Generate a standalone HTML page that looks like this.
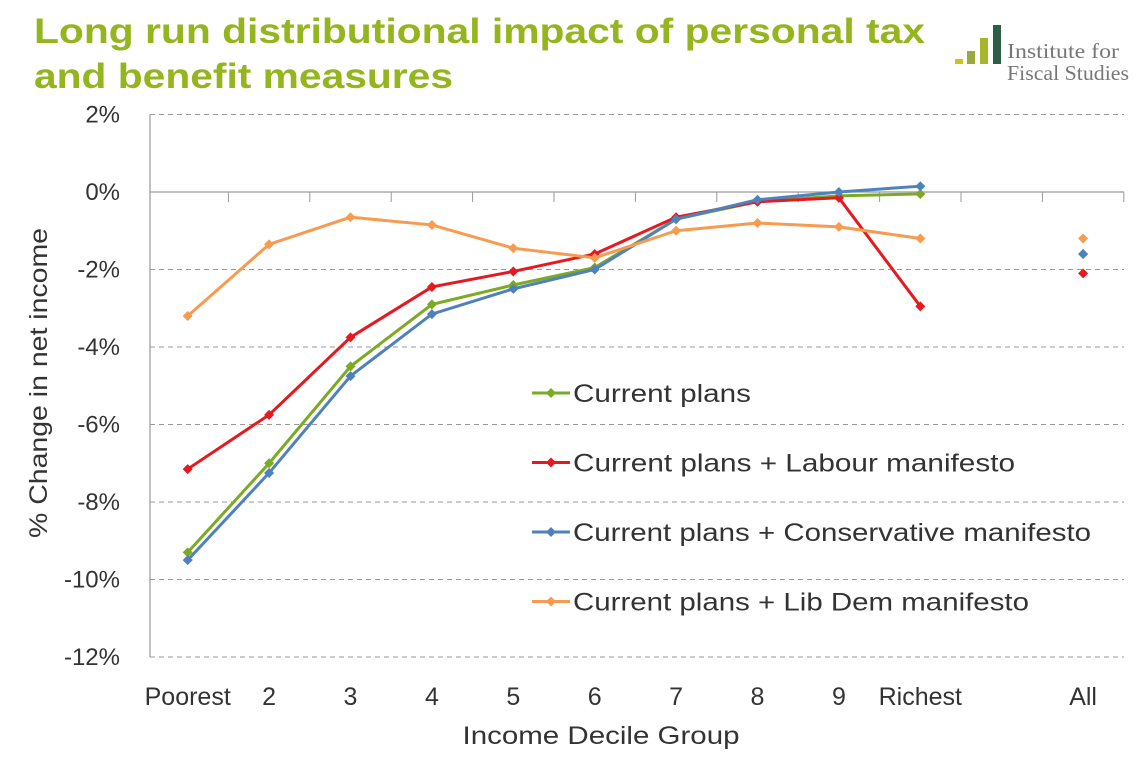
<!DOCTYPE html>
<html><head><meta charset="utf-8"><style>
body{margin:0;background:#fff;width:1141px;height:767px;overflow:hidden;font-family:"Liberation Sans","DejaVu Sans",sans-serif}
</style></head><body>
<svg width="1141" height="767" xmlns="http://www.w3.org/2000/svg">
<text x="34" y="43" font-size="35" font-weight="bold" fill="#94b51e" textLength="891" lengthAdjust="spacingAndGlyphs">Long run distributional impact of personal tax</text>
<text x="34" y="88" font-size="35" font-weight="bold" fill="#94b51e" textLength="419" lengthAdjust="spacingAndGlyphs">and benefit measures</text>
<g>
<rect x="955" y="59" width="8" height="5" fill="#c9c520"/>
<rect x="967" y="51" width="8" height="13" fill="#9aab3c"/>
<rect x="980" y="38" width="8" height="26" fill="#a7b72a"/>
<rect x="993" y="25" width="8" height="39" fill="#2e5e45"/>
<text x="1007" y="58" font-family="Liberation Serif,serif" font-size="21" fill="#777" textLength="112" lengthAdjust="spacingAndGlyphs">Institute for</text>
<text x="1007" y="80" font-family="Liberation Serif,serif" font-size="21" fill="#777" textLength="122" lengthAdjust="spacingAndGlyphs">Fiscal Studies</text>
</g>
<g id="grid"></g><g id="axes"></g><g id="series"></g>
<text transform="translate(47,383) rotate(-90)" text-anchor="middle" font-size="25" fill="#333" textLength="310" lengthAdjust="spacingAndGlyphs">% Change in net income</text>
<text x="601" y="744" text-anchor="middle" font-size="25" fill="#333" textLength="277" lengthAdjust="spacingAndGlyphs">Income Decile Group</text>
<g id="legend"></g>
</svg>
<script>
const categories=["Poorest","2","3","4","5","6","7","8","9","Richest","","All"];
const yTicks=[2,0,-2,-4,-6,-8,-10,-12];
const seriesNames=["Current plans","Current plans + Labour manifesto","Current plans + Conservative manifesto","Current plans + Lib Dem manifesto"];
const legendWidths=[178,442,518,456];
const currentPlans=[-9.3,-7.0,-4.5,-2.9,-2.4,-1.95,-0.7,-0.25,-0.1,-0.05,null,-1.6];
const labour=[-7.15,-5.75,-3.75,-2.45,-2.05,-1.6,-0.65,-0.25,-0.15,-2.95,null,-2.1];
const conservative=[-9.5,-7.25,-4.75,-3.15,-2.5,-2.0,-0.7,-0.2,0.0,0.15,null,-1.6];
const libdem=[-3.2,-1.35,-0.65,-0.85,-1.45,-1.7,-1.0,-0.8,-0.9,-1.2,null,-1.2];
const colors=["#7aab22","#e5191f","#4f81bd","#f79b50"];
const NS="http://www.w3.org/2000/svg";
const X0=147,STEP=81.4;
const xs=i=>X0+STEP*(i+0.5);
const ys=v=>192-v*38.75;
function mk(t,a,p){const e=document.createElementNS(NS,t);for(const k in a)e.setAttribute(k,a[k]);p.appendChild(e);return e;}
const grid=document.getElementById('grid'),axes=document.getElementById('axes'),ser=document.getElementById('series'),leg=document.getElementById('legend');
yTicks.forEach(t=>{
 if(t!==0){const l=mk('line',{x1:150,x2:1124,y1:ys(t),y2:ys(t),stroke:'#999','stroke-dasharray':'5,4','stroke-width':1},grid);
 
 }
 const tx=mk('text',{x:120,y:ys(t)+8,'text-anchor':'end','font-size':24,fill:'#333'},axes);tx.textContent=t+'%';
 
 
});
mk('line',{x1:150,x2:150,y1:ys(2),y2:ys(-12),stroke:'#999','stroke-width':1.2},axes);
const z=mk('line',{x1:150,x2:1124,y1:ys(0),y2:ys(0),stroke:'#999','stroke-width':1.2},axes);


for(let i=1;i<=categories.length;i++)mk('line',{x1:X0+STEP*i,x2:X0+STEP*i,y1:ys(0),y2:ys(0)+10,stroke:'#999'},axes);
categories.forEach((c,i)=>{const t=mk('text',{x:xs(i),y:705,'text-anchor':'middle','font-size':25,fill:'#333'},axes);t.textContent=c;
 
 });
function diamond(x,y,c,p){const d=mk('path',{d:`M${x},${y-5}L${x+5},${y}L${x},${y+5}L${x-5},${y}Z`,fill:c},p);return d;}
[currentPlans,labour,conservative,libdem].forEach((arr,s)=>{
 const g=mk('g',{},ser);
 
 
 const pts=arr.slice(0,10).map((v,i)=>xs(i)+','+ys(v)).join(' ');
 mk('polyline',{points:pts,fill:'none',stroke:colors[s],'stroke-width':3},g);
 arr.forEach((v,i)=>{if(v===null)return;const d=diamond(xs(i),ys(v),colors[s],g);
  
  });
});
seriesNames.forEach((n,s)=>{const y=393+s*69.5;
 const g=mk('g',{},leg);
 
 
 mk('line',{x1:532,x2:570,y1:y,y2:y,stroke:colors[s],'stroke-width':3},g);
 diamond(551,y,colors[s],g);
 const t=mk('text',{x:573,y:y+9,'font-size':25,fill:'#333',textLength:legendWidths[s],lengthAdjust:'spacingAndGlyphs'},g);t.textContent=n;});
</script>
</body></html>
